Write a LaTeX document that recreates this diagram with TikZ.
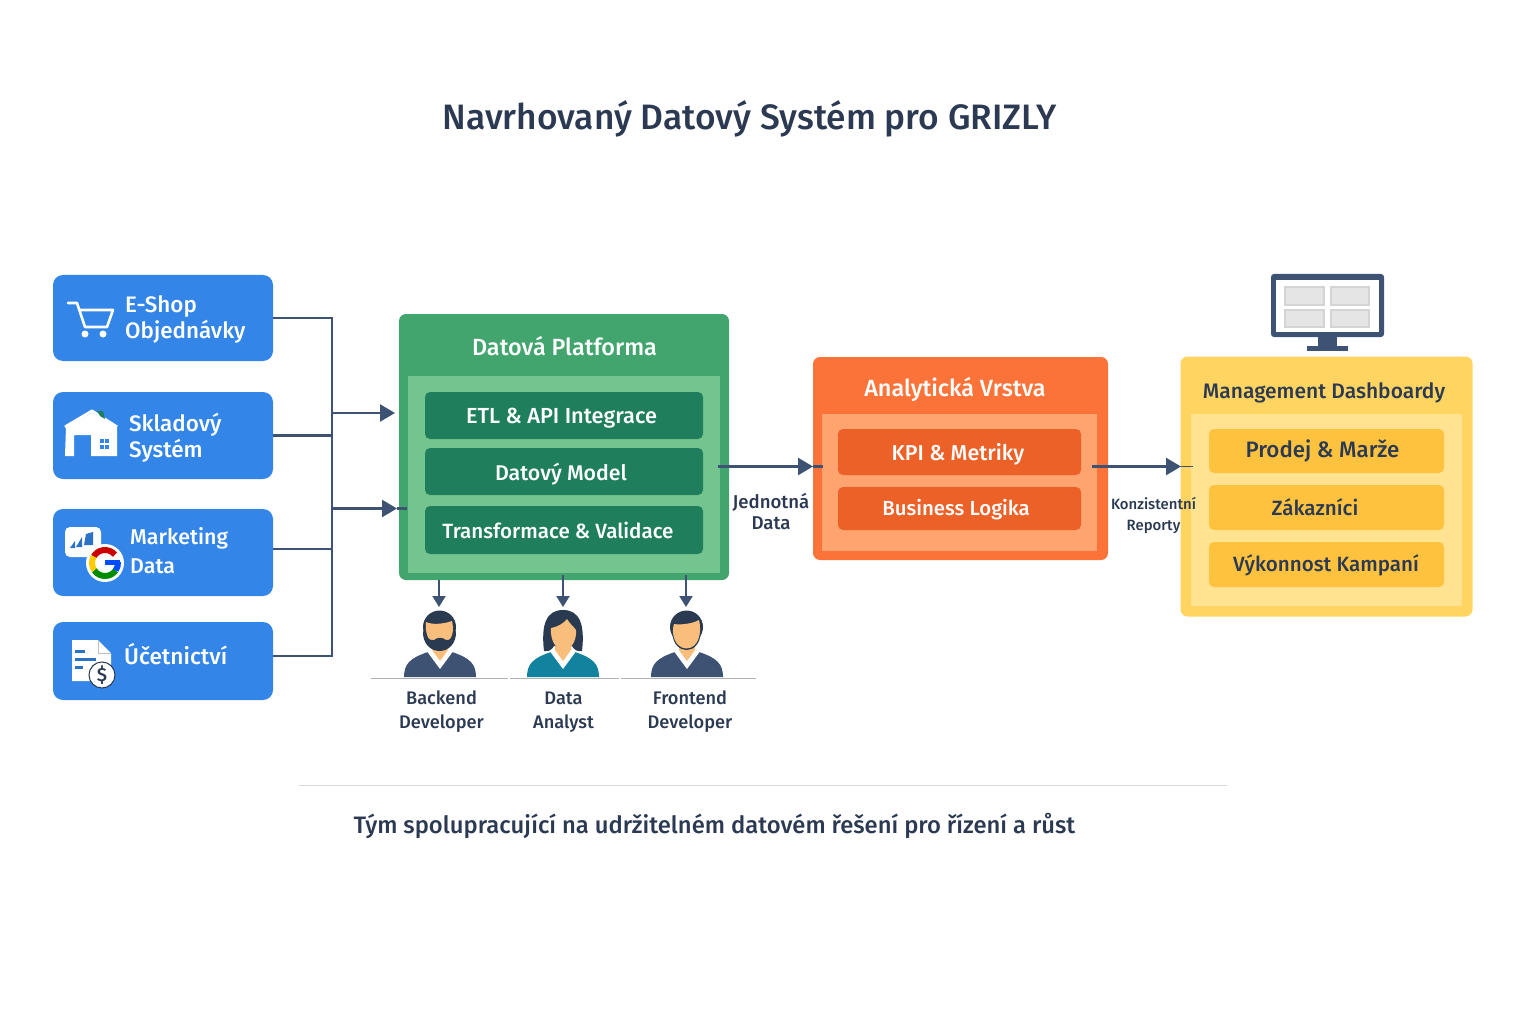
\documentclass[tikz,border=0pt]{standalone}
\usepackage{fontspec}
\setmainfont{Fira Sans Medium}
\usepackage{xcolor}
\usetikzlibrary{arrows.meta}

\definecolor{inkdark}{HTML}{2B3A52}
\definecolor{linedark}{HTML}{3E5274}
\definecolor{srcblue}{HTML}{3385E8}
\definecolor{platgreen}{HTML}{43A56E}
\definecolor{platlight}{HTML}{74C48F}
\definecolor{platbar}{HTML}{1F7F5C}
\definecolor{anaorange}{HTML}{FB7339}
\definecolor{analight}{HTML}{FFA36F}
\definecolor{anabar}{HTML}{EC6128}
\definecolor{dashyellow}{HTML}{FFD460}
\definecolor{dashlight}{HTML}{FFE390}
\definecolor{dashbar}{HTML}{FFC23E}
\definecolor{skin}{HTML}{F9BE7C}
\definecolor{hairdark}{HTML}{2A3A50}
\definecolor{bodyteal}{HTML}{12839F}

\tikzset{
    box/.style={inner sep=0pt, rounded corners=#1},
    box/.default=7pt,
    srcbox/.style={box=10pt, fill=srcblue, minimum width=220pt},
    srctext/.style={text=white, align=left, anchor=west, inner sep=0pt, font=\fontsize{22.4}{26}\selectfont},
    headtext/.style={inner sep=0pt, font=\fontsize{23.4}{27}\selectfont},
    bartext/.style={inner sep=0pt, font=\fontsize{21.5}{26}\selectfont},
    rolelabel/.style={text=inkdark, align=center, inner sep=0pt, font=\fontsize{18.2}{24}\selectfont},
    busline/.style={draw=linedark, line width=2.5pt},
    flowline/.style={draw=linedark, line width=2.5pt, -{Triangle[length=15pt,width=17pt]}},
    downline/.style={draw=linedark, line width=2pt, -{Triangle[length=11pt,width=13pt]}},
    person/.pic={
        % Shoulders, collar and neck
        \fill[#1] (-36,0) .. controls (-36,-13) and (-30,-19) .. (-12,-25) -- (12,-25) .. controls (30,-19) and (36,-13) .. (36,0) -- cycle;
        \fill[white] (-14,-27) -- (0,-8) -- (14,-27) -- (9,-33) -- (-9,-33) -- cycle;
        \fill[skin] (-8,-40) -- (8,-40) -- (8,-27) -- (0,-16) -- (-8,-27) -- cycle;
    },
}

\begin{document}
\begin{tikzpicture}[x=1pt, y=-1pt]
    \fill[white] (0,0) rectangle (1536,1024);

    % Title and closing line
    \node[text=inkdark, inner sep=0pt, font=\fontsize{35.3}{40}\selectfont] (title) at (749.5,118.5) {Navrhovaný Datový Systém pro GRIZLY};
    \coordinate (ruleleft) at (299,785);
    \coordinate (ruleright) at (1227,785);
    \draw[black!15, line width=1pt] (ruleleft) -- (ruleright);
    \node[text=inkdark, inner sep=0pt, font=\fontsize{23.8}{30}\selectfont] (closing) at (714.5,826) {Tým spolupracující na udržitelném datovém řešení pro řízení a růst};

    % Source systems
    \node[srcbox, minimum height=86pt] (eshop) at (163,318) {};
    \node[srcbox, minimum height=87pt] (sklad) at (163,435.5) {};
    \node[srcbox, minimum height=87pt] (marketing) at (163,552.5) {};
    \node[srcbox, minimum height=78pt] (account) at (163,661) {};
    \node[srctext] (eshoptext) at (125,320) {E-Shop\\Objednávky};
    \node[srctext] (skladtext) at (129,437.5) {Skladový\\Systém};
    \node[srctext, font=\fontsize{21.4}{29}\selectfont] (marketingtext) at (130,551) {Marketing\\Data};
    \node[srctext, font=\fontsize{22.7}{26}\selectfont] (accounttext) at (124,654) {Účetnictví};

    % Cart icon
    \draw[white, line width=2.6pt, line join=round, line cap=round] (68,303) -- (77,303) -- (85,327) -- (107,327) -- (113,310) -- (80,310);
    \fill[white] (85,334) circle (3.5);
    \fill[white] (103,334) circle (3.5);

    % Warehouse icon
    \draw[white, line width=3pt, line join=round] (65,427) -- (92,411) -- (117,427);
    \fill[white] (66,427) -- (92,413) -- (117,427) -- (117,456) -- (91,456) -- (91,435) -- (74,435) -- (74,456) -- (65,456) -- cycle;
    \fill[platbar] (97,411) -- (103,411) -- (105,419) -- (100,416) -- cycle;
    \fill[srcblue] (100,439) rectangle (104,443);
    \fill[srcblue] (105,439) rectangle (109,443);
    \fill[srcblue] (100,445) rectangle (104,449);
    \fill[srcblue] (105,445) rectangle (109,449);

    % Marketing icon
    \fill[white, rounded corners=5pt] (65,527) rectangle (101,557);
    \fill[srcblue!85!black] (70,548) -- (75,541) -- (75,548) -- cycle;
    \fill[srcblue!85!black] (76,547) -- (82,537) -- (82,547) -- cycle;
    \fill[srcblue!85!black] (84,545) -- (86,534) -- (93,532) -- (93,545) -- cycle;
    \fill[white] (105,563) circle (19);
    \draw[red!80!black, line width=6pt] (105,563) ++(40:13pt) arc[start angle=40, end angle=150, radius=13pt];
    \draw[orange!40!yellow, line width=6pt] (105,563) ++(150:13pt) arc[start angle=150, end angle=215, radius=13pt];
    \draw[green!55!black, line width=6pt] (105,563) ++(215:13pt) arc[start angle=215, end angle=325, radius=13pt];
    \draw[blue!70!cyan, line width=6pt] (105,563) ++(325:13pt) arc[start angle=325, end angle=365, radius=13pt];
    \fill[blue!70!cyan] (105,560) rectangle (120,565);

    % Accounting icon
    \fill[white] (72,640) -- (98,640) -- (111,653) -- (111,681) -- (72,681) -- cycle;
    \draw[black!25, line width=1pt] (98,640) -- (98,653) -- (111,653);
    \fill[srcblue!85!black] (75,650) rectangle (85,652.5);
    \fill[srcblue!85!black] (75,658) rectangle (96,660.5);
    \fill[srcblue!85!black] (75,666) rectangle (83,668.5);
    \filldraw[fill=white, draw=inkdark, line width=1pt] (102,675) circle (13);
    \node[text=inkdark, inner sep=0pt, font=\fontsize{19}{20}\selectfont] (dollar) at (102,675) {\$};

    % Data platform
    \node[box, fill=platgreen, minimum width=330pt, minimum height=266pt] (platform) at (564,447) {};
    \fill[platlight] (408,376) rectangle (720,573);
    \node[box=5pt, fill=platbar, minimum width=278pt, minimum height=47pt] (etl) at (564,415.5) {};
    \node[box=5pt, fill=platbar, minimum width=278pt, minimum height=47pt] (model) at (564,471.5) {};
    \node[box=5pt, fill=platbar, minimum width=278pt, minimum height=48pt] (transform) at (564,530) {};
    \node[headtext, text=white] (platformtext) at (564.5,346) {Datová Platforma};
    \node[bartext, text=white, font=\fontsize{21.8}{26}\selectfont] (etltext) at (561.5,418) {ETL \& API Integrace};
    \node[bartext, text=white, font=\fontsize{21.3}{26}\selectfont] (modeltext) at (561,474.5) {Datový Model};
    \node[bartext, text=white, font=\fontsize{20.6}{26}\selectfont] (transformtext) at (558,530.5) {Transformace \& Validace};

    % Analytics layer
    \node[box, fill=anaorange, minimum width=295pt, minimum height=203pt] (analytics) at (960.5,458.5) {};
    \fill[analight] (822,414) rectangle (1097,551);
    \node[box=5pt, fill=anabar, minimum width=243pt, minimum height=46pt] (kpi) at (959.5,452) {};
    \node[box=5pt, fill=anabar, minimum width=243pt, minimum height=43pt] (logic) at (959.5,508.5) {};
    \node[headtext, text=white] (analyticstext) at (955,389) {Analytická Vrstva};
    \node[bartext, text=white] (kpitext) at (958,454.5) {KPI \& Metriky};
    \node[bartext, text=white, font=\fontsize{20.4}{26}\selectfont] (logictext) at (956,509.5) {Business Logika};

    % Dashboards
    \node[box, fill=dashyellow, minimum width=292pt, minimum height=260pt] (dashboard) at (1326.5,486.5) {};
    \fill[dashlight] (1191,414) rectangle (1462,606);
    \node[box=5pt, fill=dashbar, minimum width=235pt, minimum height=44pt] (sales) at (1326.5,451) {};
    \node[box=5pt, fill=dashbar, minimum width=235pt, minimum height=45pt] (customers) at (1326.5,507.5) {};
    \node[box=5pt, fill=dashbar, minimum width=235pt, minimum height=45pt] (campaigns) at (1326.5,564.5) {};
    \node[headtext, text=inkdark, font=\fontsize{21}{26}\selectfont] (dashboardtext) at (1324,393) {Management Dashboardy};
    \node[bartext, text=inkdark, font=\fontsize{22.3}{26}\selectfont] (salestext) at (1322.5,451) {Prodej \& Marže};
    \node[bartext, text=inkdark, font=\fontsize{20.6}{26}\selectfont] (customerstext) at (1315,507) {Zákazníci};
    \node[bartext, text=inkdark, font=\fontsize{20.6}{26}\selectfont] (campaignstext) at (1326,565) {Výkonnost Kampaní};

    % Monitor above the dashboards
    \fill[linedark, rounded corners=3pt] (1271,274) rectangle (1384,337);
    \fill[white] (1276,280) rectangle (1379,332);
    \filldraw[fill=black!10, draw=black!17, line width=2pt] (1285,287) rectangle (1324,305);
    \filldraw[fill=black!10, draw=black!17, line width=2pt] (1331,287) rectangle (1369,305);
    \filldraw[fill=black!10, draw=black!17, line width=2pt] (1285,310) rectangle (1324,327);
    \filldraw[fill=black!10, draw=black!17, line width=2pt] (1331,310) rectangle (1369,327);
    \fill[linedark] (1318,337) rectangle (1337,346);
    \fill[linedark] (1307,346) rectangle (1348,350.5);

    % Sources join one bus
    \coordinate (busjoin) at (332,500);
    \draw[busline] (eshop.east) -| (busjoin) |- ([yshift=5pt]account.east);
    \draw[busline] (sklad.east) -- (sklad.east -| busjoin);
    \draw[busline] ([yshift=3.5pt]marketing.east) -- ([yshift=3.5pt]marketing.east -| busjoin);

    % Flow between the layers
    \coordinate (inA) at (395,413);
    \coordinate (inB) at (397,508.5);
    \coordinate (inBend) at (407,508.5);
    \draw[flowline] (inA -| busjoin) -- (inA);
    \draw[flowline] (inB -| busjoin) -- (inB);
    \draw[busline] (inB) -- (inBend);

    \coordinate (outA) at (718,466.5);
    \coordinate (tipA) at (813,466.5);
    \coordinate (endA) at (823,466.5);
    \draw[flowline] (outA) -- (tipA);
    \draw[busline] (tipA) -- (endA);
    \node[text=inkdark, align=center, inner sep=0pt, font=\fontsize{18.6}{21}\selectfont] (unified) at (771,512) {Jednotná\\Data};

    \coordinate (outB) at (1092,466.5);
    \coordinate (tipB) at (1181,466.5);
    \coordinate (endB) at (1193,466.5);
    \draw[flowline] (outB) -- (tipB);
    \draw[busline, line width=1.6pt] (tipB) -- (endB);
    \node[text=inkdark, align=center, inner sep=0pt, font=\fontsize{14.9}{21}\selectfont] (reports) at (1153.5,516) {Konzistentní\\Reporty};

    % Team below the platform
    \coordinate (backendtop) at (439,607);
    \coordinate (analysttop) at (563,607);
    \coordinate (frontendtop) at (686,607);
    \draw[downline] (platform.south -| backendtop) -- (backendtop);
    \draw[downline] ([yshift=5pt]platform.south -| analysttop) -- (analysttop);
    \draw[downline] ([yshift=5pt]platform.south -| frontendtop) -- (frontendtop);

    % Backend developer
    \pic (backend) at (440,677) {person=linedark};
    \fill[hairdark] (439.5,627) circle (16.5);
    \fill[skin] (426,622) .. controls (432,625) and (444,624) .. (452,621) .. controls (454,630) and (454,640) .. (440,650) .. controls (427,642) and (425,632) .. (426,622) -- cycle;
    \fill[hairdark] (423,630) .. controls (426,638) and (430,641) .. (434,640) .. controls (438,637) and (442,637) .. (446,640) .. controls (450,641) and (454,636) .. (456,630) .. controls (457,644) and (448,651) .. (439.5,651) .. controls (431,651) and (422,644) .. (423,630) -- cycle;

    % Data analyst
    \pic (analyst) at (563,677) {person=bodyteal};
    \fill[hairdark] (544,651) .. controls (541,625) and (546,610) .. (563,610) .. controls (580,610) and (585,625) .. (582,651) .. controls (578,652) and (574,650) .. (572,646) -- (554,646) .. controls (552,650) and (548,652) .. (544,651) -- cycle;
    \fill[skin] (551,628) .. controls (557,627) and (563,624) .. (567,619) .. controls (570,624) and (574,627) .. (576,630) .. controls (577,642) and (570,650) .. (563,650) .. controls (556,650) and (550,640) .. (551,628) -- cycle;

    % Frontend developer
    \pic (frontend) at (687,677) {person=linedark};
    \fill[hairdark] (686.5,627) circle (16.5);
    \fill[hairdark] (672,632) .. controls (673,645) and (680,650) .. (686.5,650) .. controls (693,650) and (700,645) .. (701,632) -- cycle;
    \fill[skin] (674,624) .. controls (680,625) and (692,624) .. (699,620) .. controls (702,632) and (699,648) .. (686.5,648.5) .. controls (674,648) and (671,632) .. (674,624) -- cycle;

    % Floor lines and role labels
    \coordinate (floorA) at (371,678);
    \coordinate (floorB) at (508,678);
    \coordinate (floorC) at (510,678);
    \coordinate (floorD) at (619,678);
    \coordinate (floorE) at (621,678);
    \coordinate (floorF) at (756,678);
    \draw[black!30, line width=1pt] (floorA) -- (floorB);
    \draw[black!30, line width=1pt] (floorC) -- (floorD);
    \draw[black!30, line width=1pt] (floorE) -- (floorF);
    \node[rolelabel] (backendtext) at (441.5,712) {Backend\\Developer};
    \node[rolelabel] (analysttext) at (563.5,712.5) {Data\\Analyst};
    \node[rolelabel] (frontendtext) at (690,712) {Frontend\\Developer};
\end{tikzpicture}
\end{document}
